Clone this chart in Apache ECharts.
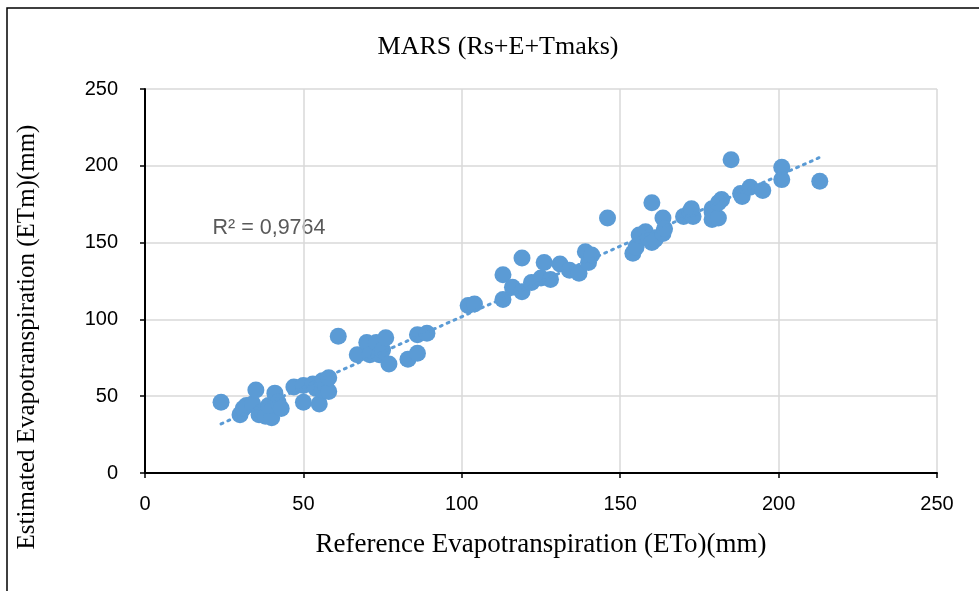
<!DOCTYPE html>
<html>
<head>
<meta charset="utf-8">
<script src="https://cdn.jsdelivr.net/npm/echarts@6/dist/echarts.min.js"></script>
<style>html,body{margin:0;padding:0;background:#fff}#c{width:979px;height:591px}</style>
</head>
<body>
<div id="c"></div>
<script>
var titleText = 'MARS (Rs+E+Tmaks)';
var xAxisName = 'Reference Evapotranspiration (ETo)(mm)';
var yAxisName = 'Estimated Evapotranspiration (ETm)(mm)';
var r2Text = 'R² = 0,9764';
var xTicks = [0, 50, 100, 150, 200, 250];
var yTicks = [0, 50, 100, 150, 200, 250];
// observed points [ETo, ETm]
var lowCluster = [[24,46],[30,38],[31,42],[32,44],[34,45],[35,54],[36,38],[37,40],[38,37],[40,36],[39,44],[41,52],[42,46],[43,42],[47,56],[50,46],[50,57],[53,58],[54,55],[55,45],[56,54],[56,60],[57,57],[58,53],[58,62]];
var midLowCluster = [[61,89],[67,77],[70,85],[71,77],[73,85],[74,77],[75,80],[76,88],[77,71],[83,74],[86,78],[86,90],[89,91]];
var midCluster = [[102,109],[104,110],[113,113],[113,129],[116,121],[119,118],[119,140],[122,124],[125,127],[126,137],[128,126],[131,136],[134,132],[137,130],[139,144],[140,137],[141,142]];
var highCluster = [[146,166],[154,143],[155,147],[156,155],[158,157],[159,153],[160,150],[161,152],[160,176],[163.5,166],[163.5,156],[164,159],[170,167],[172,170],[173,167],[172.5,172],[179,170],[179,165],[179,172],[181,166],[182,178],[181,176],[185,204],[188,182],[188.5,180],[191,186],[195,184],[201,199],[201,191],[213,190]];
// linear trend endpoints
var trendX = [24, 213];
var trendY = [32, 205.5];

var points = lowCluster.concat(midLowCluster, midCluster, highCluster);
var trend = [[trendX[0], trendY[0]], [trendX[1], trendY[1]]];

var chart = echarts.init(document.getElementById('c'), null, {renderer: 'canvas'});
var serif = '"Liberation Serif", "Times New Roman", serif';
var sans = '"Liberation Sans", Arial, sans-serif';
var narrow = '"Liberation Sans Narrow", "Liberation Sans", Arial, sans-serif';
chart.setOption({
  animation: false,
  backgroundColor: '#fff',
  grid: {left: 145, right: 42, top: 89, bottom: 118, containLabel: false},
  graphic: [
    {type: 'rect', shape: {x: 7, y: 8, width: 1100, height: 1000}, style: {fill: 'none', stroke: '#000', lineWidth: 1.5}, silent: true},
    {type: 'text', x: 498, y: 47, style: {text: titleText, font: '26px ' + serif, fill: '#000', textAlign: 'center', textVerticalAlign: 'middle'}},
    {type: 'text', x: 269, y: 228, style: {text: r2Text, font: '21.5px ' + sans, fill: '#595959', textAlign: 'center', textVerticalAlign: 'middle'}},
    {type: 'text', x: 27, y: 337, rotation: Math.PI / 2, style: {text: yAxisName, font: '25px ' + serif, fill: '#000', textAlign: 'center', textVerticalAlign: 'middle'}}
  ],
  xAxis: {
    type: 'value', min: xTicks[0], max: xTicks[xTicks.length-1], interval: 50,
    name: xAxisName, nameLocation: 'middle', nameGap: 58,
    nameTextStyle: {fontFamily: serif, fontSize: 27, color: '#000'},
    axisLine: {show: true, onZero: false, lineStyle: {color: '#000', width: 2}},
    axisTick: {show: true, length: 5, lineStyle: {color: '#000', width: 1.5}},
    axisLabel: {margin: 21, fontFamily: narrow, fontSize: 20, color: '#000'},
    splitLine: {show: true, lineStyle: {color: '#d9d9d9', width: 1.5}}
  },
  yAxis: {
    type: 'value', min: yTicks[0], max: yTicks[yTicks.length-1], interval: 50,
    axisLine: {show: true, onZero: false, lineStyle: {color: '#000', width: 2}},
    axisTick: {show: true, length: 5, lineStyle: {color: '#000', width: 1.5}},
    axisLabel: {margin: 27, fontFamily: narrow, fontSize: 20, color: '#000'},
    splitLine: {show: true, lineStyle: {color: '#d9d9d9', width: 1.5}}
  },
  series: [
    {type: 'scatter', data: points, symbol: 'circle', symbolSize: 17, itemStyle: {color: '#5b9bd5', opacity: 1}, z: 3},
    {type: 'line', data: trend, symbol: 'none', lineStyle: {color: '#5b9bd5', width: 3, type: [2, 5.5], cap: 'round'}, z: 4}
  ]
});
</script>
</body>
</html>
